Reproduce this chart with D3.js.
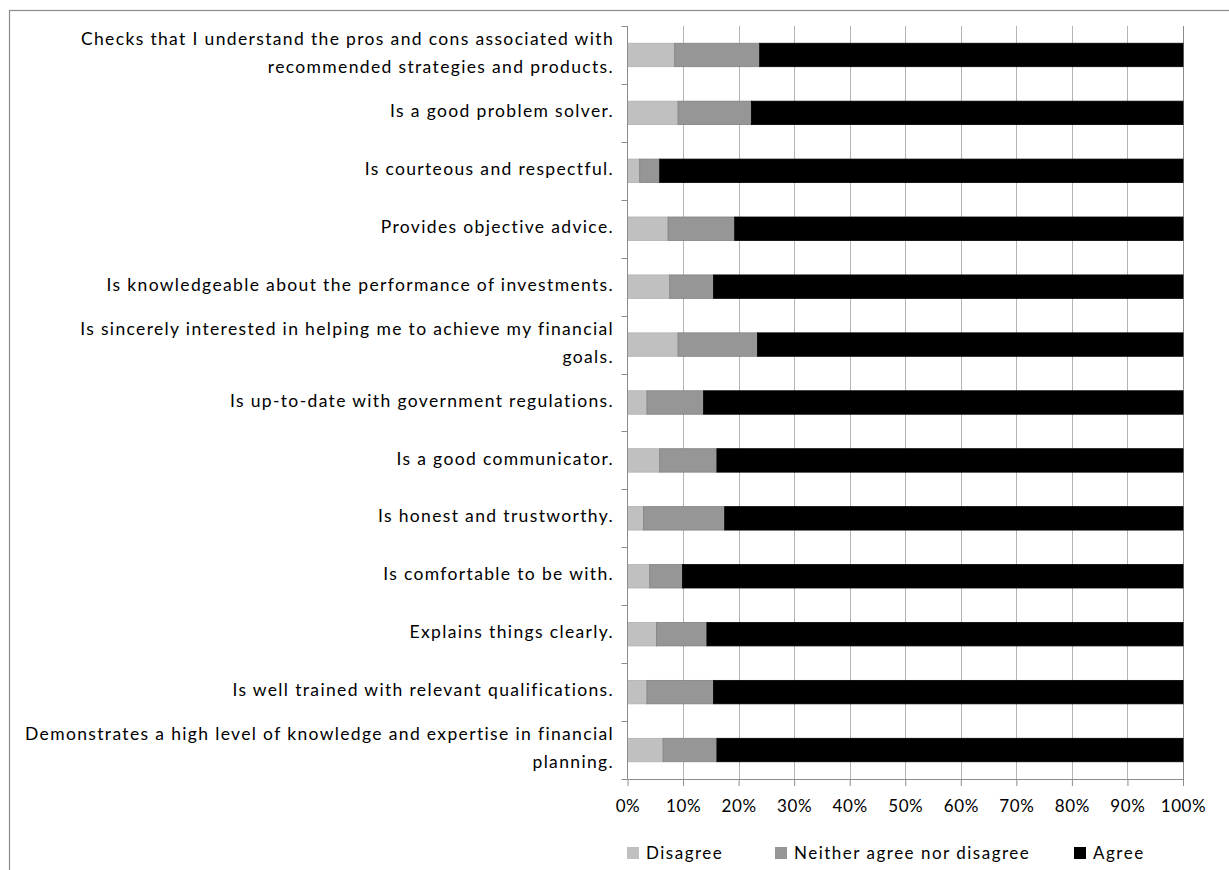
<!DOCTYPE html>
<html>
<head>
<meta charset="utf-8">
<script src="https://cdn.jsdelivr.net/npm/d3@7"></script>
<style>
  html, body { margin: 0; padding: 0; background: #fff; }
  svg { display: block; }
  text { font-family: Lato, "Open Sans", sans-serif; fill: #000; }
</style>
</head>
<body>
<svg id="chart" width="1229" height="870"></svg>
<script>
// Survey statements, listed top to bottom; "\n" marks a wrapped line.
const categories = [
  "Checks that I understand the pros and cons associated with\nrecommended strategies and products.",
  "Is a good problem solver.",
  "Is courteous and respectful.",
  "Provides objective advice.",
  "Is knowledgeable about the performance of investments.",
  "Is sincerely interested in helping me to achieve my financial\ngoals.",
  "Is up-to-date with government regulations.",
  "Is a good communicator.",
  "Is honest and trustworthy.",
  "Is comfortable to be with.",
  "Explains things clearly.",
  "Is well trained with relevant qualifications.",
  "Demonstrates a high level of knowledge and expertise in financial\nplanning."
];

// Share of respondents (%) per response, same order as categories.
const disagree = [8.5, 9.1, 2.2, 7.3, 7.6, 9.1, 3.5, 5.8, 2.9, 4.0, 5.2, 3.5, 6.4];
const neither  = [15.3, 13.2, 3.6, 12.0, 7.9, 14.3, 10.2, 10.3, 14.6, 5.9, 9.1, 12.0, 9.7];
const agree    = [76.2, 77.7, 94.2, 80.7, 84.5, 76.6, 86.3, 83.9, 82.5, 90.1, 85.7, 84.5, 83.9];

const seriesNames = ["Disagree", "Neither agree nor disagree", "Agree"];
const tickValues = [0, 0.1, 0.2, 0.3, 0.4, 0.5, 0.6, 0.7, 0.8, 0.9, 1.0];

const colors = ["#c0c0c0", "#969696", "#000000"];
const strokes = ["#b0b0b0", "#808080", "#000000"];

const svg = d3.select("#chart");

// Outer chart frame (extends past the visible page on the right and bottom)
svg.append("rect")
  .attr("x", 9.5).attr("y", 10.5)
  .attr("width", 1300).attr("height", 900)
  .attr("fill", "none").attr("stroke", "#8a8a8a").attr("stroke-width", 1.2);

const plot = { left: 627.5, right: 1183, top: 26, bottom: 779 };

const x = d3.scaleLinear().domain([0, 1]).range([plot.left, plot.right]);
const y = d3.scaleBand().domain(categories)
  .range([plot.top, plot.bottom])
  .paddingInner(0.595).paddingOuter(0.2975);

// Build row records and stack them into 100% segments
const rows = categories.map((c, i) => {
  const total = disagree[i] + neither[i] + agree[i];
  return {
    category: c,
    "Disagree": disagree[i] / total,
    "Neither agree nor disagree": neither[i] / total,
    "Agree": agree[i] / total
  };
});
const stacked = d3.stack().keys(seriesNames)(rows);

// Vertical gridlines
svg.append("g").selectAll("line")
  .data(tickValues.slice(1))
  .join("line")
  .attr("x1", d => Math.round(x(d)) + 0.5).attr("x2", d => Math.round(x(d)) + 0.5)
  .attr("y1", plot.top).attr("y2", plot.bottom)
  .attr("stroke", d => d === 1 ? "#8c8c8c" : "#b4b4b4")
  .attr("stroke-width", 1);

// Bars
svg.append("g").selectAll("g")
  .data(stacked)
  .join("g")
  .attr("fill", (d, i) => colors[i])
  .attr("stroke", (d, i) => strokes[i])
  .attr("stroke-width", 0.8)
  .selectAll("rect")
  .data(d => d)
  .join("rect")
  .attr("x", d => x(d[0]))
  .attr("width", d => x(d[1]) - x(d[0]))
  .attr("y", d => y(d.data.category))
  .attr("height", y.bandwidth());

// Category (y) axis: line plus ticks at band boundaries
const yAxisG = svg.append("g");
yAxisG.append("line")
  .attr("x1", plot.left).attr("x2", plot.left)
  .attr("y1", plot.top).attr("y2", plot.bottom)
  .attr("stroke", "#8c8c8c");
const boundaries = d3.range(categories.length + 1).map(i => plot.top + i * y.step());
yAxisG.selectAll("line.tick")
  .data(boundaries)
  .join("line").attr("class", "tick")
  .attr("x1", plot.left - 6).attr("x2", plot.left)
  .attr("y1", d => Math.round(d) + 0.5).attr("y2", d => Math.round(d) + 0.5)
  .attr("stroke", "#8c8c8c");

// Category labels, right-aligned against the axis
const labelSize = 17.5;
const lineGap = 28;
const labels = yAxisG.selectAll("text.cat")
  .data(categories)
  .join("text").attr("class", "cat")
  .attr("text-anchor", "end")
  .style("font-size", labelSize + "px")
  .style("letter-spacing", "1.35px");
labels.each(function(d) {
  const lines = d.split("\n");
  const cy = y(d) + y.bandwidth() / 2 - 2;
  const t = d3.select(this);
  lines.forEach((ln, k) => {
    t.append("tspan")
      .attr("x", 614)
      .attr("y", cy + (k - (lines.length - 1) / 2) * lineGap)
      .attr("dy", "0.35em")
      .text(ln);
  });
});

// Value (x) axis
const xAxis = d3.axisBottom(x)
  .tickValues(tickValues)
  .tickFormat(d3.format(".0%"))
  .tickSize(7)
  .tickSizeOuter(0);
const xAxisG = svg.append("g")
  .attr("transform", `translate(0,${plot.bottom})`)
  .call(xAxis);
xAxisG.select(".domain").attr("stroke", "#8c8c8c");
xAxisG.selectAll(".tick line").attr("stroke", "#8c8c8c");
xAxisG.selectAll(".tick text")
  .attr("y", 27).attr("dy", "0.35em")
  .style("font-size", "17px")
  .style("letter-spacing", "0.6px")
  .style("font-family", "Lato, sans-serif")
  .attr("fill", "#000");

// Legend
const legendX = [627, 775, 1074];
const legend = svg.append("g").selectAll("g")
  .data(seriesNames)
  .join("g")
  .attr("transform", (d, i) => `translate(${legendX[i]},853)`);
legend.append("rect")
  .attr("x", 0).attr("y", -6).attr("width", 12).attr("height", 12)
  .attr("fill", (d, i) => colors[i]);
legend.append("text")
  .attr("x", 19).attr("y", 0).attr("dy", "0.35em")
  .style("font-size", "17px")
  .style("letter-spacing", "1.5px")
  .text(d => d);
</script>
</body>
</html>
